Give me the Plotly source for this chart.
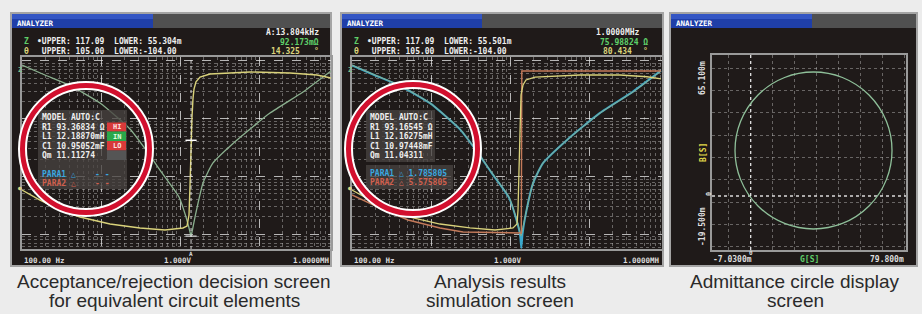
import math
import plotly.graph_objects as go

W, H = 922, 314
def X(p): return p / W
def Y(p): return 1 - p / H

# ---------------- data ----------------
# Panel 1 : acceptance / rejection screen (measured)
p1_freq_z = [100, 195, 393, 971, 2328, 3712, 5918, 9712, 11910, 13390, 13780,
             14190, 15490, 19550, 26160, 52660, 137800, 360600, 815500]
p1_z = [85.1, 57.1, 38.3, 18.7, 6.63, 2.87, 1.15, 0.44, 0.198, 0.109, 0.0922,
        0.109, 0.198, 0.770, 1.71, 4.28, 12.5, 29.0, 67.0]
p1_freq_theta = [100, 169, 303, 542, 1300, 3116, 6458, 9434, 10910, 12260, 13000,
                 13390, 13780, 14190, 14610, 15040, 15940, 17920, 23970, 76930,
                 246900, 542300, 815500]
p1_theta = [-39.8, -50.7, -61.5, -69.2, -76.8, -81.1, -83.3, -82.2, -81.1, -79.0,
            -67.0, -35.0, 10.0, 40.0, 60.0, 70.0, 78.0, 83.2, 86.5, 88.7, 87.6,
            85.4, 82.1]

# Panel 2 : analysis results simulation screen
p2_freq_z = [100, 195, 393, 971, 2328, 3712, 5918, 9712, 11910, 13390, 13780,
             14190, 15490, 19550, 26160, 52660, 137800, 360600, 815500]
p2_z = [85.1, 57.1, 38.3, 18.7, 6.63, 2.87, 1.15, 0.44, 0.198, 0.109, 0.093,
        0.109, 0.198, 0.770, 1.71, 4.28, 12.5, 29.0, 67.0]
p2_freq_zsim = [100, 195, 393, 971, 2328, 3712, 5918, 9712, 11910, 13390, 13900,
                14400, 15490, 19550, 26160, 52660, 137800, 360600, 815500]
p2_zsim = [84.0, 56.5, 38.0, 18.6, 6.55, 2.85, 1.13, 0.43, 0.19, 0.10, 0.058,
           0.10, 0.19, 0.76, 1.70, 4.30, 12.6, 29.5, 68.0]
p2_freq_theta = [100, 169, 303, 542, 1300, 3116, 6458, 9434, 10910, 12260, 12630,
                 13000, 13390, 13780, 14610, 15940, 20720, 76930, 246900, 542300,
                 815500]
p2_theta = [-39.8, -50.7, -61.5, -69.2, -76.8, -81.1, -83.3, -82.2, -81.1, -76.8,
            -61.5, -18.0, 36.4, 63.6, 74.5, 80.0, 83.2, 85.4, 85.4, 83.5, 81.1]
p2_freq_thsim = [100, 226, 512, 1300, 2541, 10910, 13900, 14110, 815500]
p2_thsim = [-45.2, -59.4, -72.4, -81.1, -85.5, -86.6, -86.6, 89.8, 89.8]

# Marker A (panel 1)
marker_freq = 13804
marker_z = 0.092173
marker_theta = 14.325

# Axis limits shown on the screens
z_upper = [117.09, 117.09]
z_lower = [0.055304, 0.055501]
th_upper, th_lower = 105.0, -104.0

# Panel 3 : admittance circle (G, B in mS)
g_range = [-7.03, 79.8]
b_range = [-19.5, 65.1]
circle_g = [3.27, 73.54]     # leftmost / rightmost G of the circle
circle_b = [-10.38, 57.73]   # lowest / highest B of the circle
cursor_g = 10.29
cursor_b = 3.93

# ---------------- styling ----------------
BG = "#ececec"
SCR = "#1f1a19"
GREEN = "#8bb08f"
YEL = "#d9d27a"
CYAN = "#3aa8cc"
BROWN = "#c47a5a"
RED = "#d2102e"
MONO = "DejaVu Sans Mono"
GRID_MIN = "rgba(205,205,205,0.42)"
GRID_MAJ = "rgba(235,235,235,0.75)"

fig = go.Figure()

# panel 1 traces
fig.add_trace(go.Scatter(x=p1_freq_theta, y=p1_theta, xaxis="x", yaxis="y2",
                         mode="lines", line=dict(color=YEL, width=1.4)))
fig.add_trace(go.Scatter(x=p1_freq_z, y=p1_z, xaxis="x", yaxis="y", mode="lines",
                         line=dict(color=GREEN, width=1.3, shape="spline", smoothing=0.5)))
fig.add_trace(go.Scatter(x=[marker_freq], y=[marker_theta], xaxis="x", yaxis="y2",
                         mode="markers", marker=dict(symbol="line-ew-open", size=8, color="white",
                         line=dict(color="white", width=1.5))))
fig.add_trace(go.Scatter(x=[marker_freq], y=[marker_z], xaxis="x", yaxis="y",
                         mode="markers", marker=dict(symbol="line-ew-open", size=8, color="#bbbbbb",
                         line=dict(color="#bbbbbb", width=1.5))))

# panel 2 traces
fig.add_trace(go.Scatter(x=p2_freq_thsim, y=p2_thsim, xaxis="x2", yaxis="y4",
                         mode="lines", line=dict(color=BROWN, width=1.4)))
fig.add_trace(go.Scatter(x=p2_freq_theta, y=p2_theta, xaxis="x2", yaxis="y4",
                         mode="lines", line=dict(color=YEL, width=1.3)))
fig.add_trace(go.Scatter(x=p2_freq_zsim, y=p2_zsim, xaxis="x2", yaxis="y3", mode="lines",
                         line=dict(color=CYAN, width=2.0, shape="spline", smoothing=0.5)))
fig.add_trace(go.Scatter(x=p2_freq_z, y=p2_z, xaxis="x2", yaxis="y3", mode="lines",
                         line=dict(color=GREEN, width=1.0, shape="spline", smoothing=0.5)))

# panel 3 (invisible trace so the axes exist)
fig.add_trace(go.Scatter(x=circle_g, y=circle_b, xaxis="x3", yaxis="y5",
                         mode="markers", marker=dict(opacity=0), hoverinfo="skip"))

def logx(domain, span):
    return dict(type="log", domain=domain, range=[2, 2 + span / 79], dtick=1,
                showgrid=True, gridcolor=GRID_MAJ, griddash="dash", gridwidth=1,
                minor=dict(showgrid=True, gridcolor=GRID_MIN, griddash="dot", dtick="D1"),
                showticklabels=False, ticks="", zeroline=False,
                showline=True, linecolor="#9a9a9a", linewidth=1.5, mirror=True)

def logy(domain, lo, hi):
    return dict(type="log", domain=domain, range=[math.log10(lo), math.log10(hi)], dtick=1,
                showgrid=True, gridcolor=GRID_MAJ, griddash="dash", gridwidth=1,
                minor=dict(showgrid=True, gridcolor=GRID_MIN, griddash="dot", dtick="D1"),
                showticklabels=False, ticks="", zeroline=False,
                showline=True, linecolor="#9a9a9a", linewidth=1.5, mirror=True)

ydom = [Y(249), Y(57)]
fig.update_layout(
    width=W, height=H, margin=dict(l=0, r=0, t=0, b=0),
    paper_bgcolor=BG, plot_bgcolor=SCR, showlegend=False,
    xaxis=dict(**logx([X(22), X(331)], 309), anchor="y"),
    yaxis=dict(**logy(ydom, z_lower[0], z_upper[0]), anchor="x"),
    yaxis2=dict(overlaying="y", range=[th_lower, th_upper], visible=False, anchor="x"),
    xaxis2=dict(**logx([X(352), X(662)], 310), anchor="y3"),
    yaxis3=dict(**logy(ydom, z_lower[1], z_upper[1]), anchor="x2"),
    yaxis4=dict(overlaying="y3", range=[th_lower, th_upper], visible=False, anchor="x2"),
    xaxis3=dict(domain=[X(712), X(906)], range=g_range, anchor="y5",
                tick0=cursor_g, dtick=9.85, showgrid=True, gridcolor=GRID_MIN,
                griddash="dot", showticklabels=False, ticks="", zeroline=False,
                showline=True, linecolor="#9a9a9a", linewidth=1.5, mirror=True),
    yaxis5=dict(domain=[Y(250), Y(55)], range=b_range, anchor="x3",
                tick0=59.33, dtick=9.67, showgrid=True, gridcolor=GRID_MIN,
                griddash="dot", showticklabels=False, ticks="", zeroline=False,
                showline=True, linecolor="#9a9a9a", linewidth=1.5, mirror=True),
)

shapes = []
def rect(x0, y0, x1, y1, fill, line=None, lw=0, layer="above"):
    shapes.append(dict(type="rect", xref="paper", yref="paper", x0=X(x0), x1=X(x1),
                       y0=Y(y1), y1=Y(y0), fillcolor=fill, layer=layer,
                       line=dict(color=line or fill, width=lw)))

panels = [(11, 331, 153), (341, 663, 482), (670, 917, 812)]
for (l, r, bl) in panels:
    rect(l, 13, r, 266, SCR, "#a4a4a4", 2, layer="below")
    rect(l + 1, 14, r - 1, 28, "#505050", layer="below")
    rect(l + 1, 14, bl, 28, "#1f3fa8", layer="below")
    rect(l + 1, 14, bl, 19, "#3456c4", layer="below")

# marker A line (panel 1)
shapes.append(dict(type="line", xref="x", yref="y domain", x0=marker_freq, x1=marker_freq,
                   y0=0, y1=1, line=dict(color="rgba(240,240,240,0.85)", width=1, dash="dot")))
# panel 3 cursors and circle
shapes.append(dict(type="line", xref="x3", yref="y5 domain", x0=cursor_g, x1=cursor_g,
                   y0=0, y1=1, line=dict(color="rgba(240,240,240,0.9)", width=1.3, dash="dot")))
shapes.append(dict(type="line", xref="x3 domain", yref="y5", x0=0, x1=1, y0=cursor_b,
                   y1=cursor_b, line=dict(color="rgba(240,240,240,0.9)", width=1.3, dash="dot")))
shapes.append(dict(type="circle", xref="x3", yref="y5", x0=circle_g[0], x1=circle_g[1],
                   y0=circle_b[0], y1=circle_b[1], line=dict(color="#8fc09a", width=1.3)))

# info boxes
rect(38, 110, 127, 189, "rgba(72,66,64,0.78)")
rect(366, 110, 435, 162, "rgba(72,66,64,0.78)")
rect(366, 165, 453, 189, "rgba(72,66,64,0.78)")
# judgement cells
rect(107, 122.5, 126, 131.5, "#d83a3a")
rect(107, 131.5, 126, 141, "#2aa84a")
rect(107, 141, 126, 150.5, "#d83a3a")
rect(107, 150.5, 126, 160, "#555555")

# red circles with white outline
for (cx, cy, rr) in [(86, 149, 63.5), (413, 149, 64.5)]:
    for col, w in [("white", 9), (RED, 5)]:
        shapes.append(dict(type="circle", xref="paper", yref="paper",
                           x0=X(cx - rr), x1=X(cx + rr), y0=Y(cy + rr), y1=Y(cy - rr),
                           line=dict(color=col, width=w)))
fig.update_layout(shapes=shapes)

anns = []
def t(x, y, text, color="#eeeeee", size=8, anchor="left", bold=True, family=MONO, angle=0):
    anns.append(dict(x=X(x), y=Y(y), xref="paper", yref="paper", text=text, showarrow=False,
                     xanchor=anchor, yanchor="middle", textangle=angle,
                     font=dict(family=family, size=size, color=color,
                               weight="bold" if bold else "normal")))

for (l, r, bl) in panels:
    t(l + 4, 23.5, "ANALYZER", "white", 7.5)

for (o, low) in [(0, "55.304m"), (330, "55.501m")]:
    t(o + 22, 42, "Z", "#5fd06a")
    t(o + 35, 42, "•UPPER: 117.09  LOWER: " + low)
    t(o + 22, 51.5, "θ", YEL)
    t(o + 35, 51.5, " UPPER: 105.00  LOWER:-104.00")
    t(o + 16, 70, "Z", "#7fc08a", 7)
    t(o + 16, 187, "●", YEL, 6)
    t(o + 22, 260, "100.00 Hz", "#dddddd", 7.5)
    t(o + 178, 260, "1.000V", "#dddddd", 7.5, "center")
    t(o + 332, 260, "1.0000MH", "#dddddd", 7.5, "right")
t(321, 33, "A:13.804kHz", "#eeeeee", 8, "right")
t(321, 43, "92.173mΩ", "#5fd06a", 8, "right")
t(302, 52, "14.325", YEL, 8, "right")
t(321, 52, "°", YEL, 8, "right")
t(191, 253, "A", "#dddddd", 6, "center")
t(642, 33, "1.0000MHz", "#eeeeee", 8, "right")
t(650, 43, "75.98824 Ω", "#5fd06a", 8, "right")
t(634, 52, "80.434", YEL, 8, "right")
t(650, 52, "°", YEL, 8, "right")

rows1 = ["MODEL AUTO:C", "R1 93.36834 Ω", "L1 12.18870mH", "C1 10.95052mF", "Qm 11.11274"]
rows2 = ["MODEL AUTO:C", "R1 93.16545 Ω", "L1 12.16275mH", "C1 10.97448mF", "Qm 11.04311"]
for i, yy in enumerate([117.5, 127, 136.5, 146.5, 155.5]):
    t(40, yy, rows1[i])
    t(368, yy, rows2[i])
for lab, yy in [("HI", 127), ("IN", 136.5), ("LO", 146)]:
    t(116.5, yy, lab, "#ffe0e0" if lab != "IN" else "#e0ffe0", 7, "center")
t(40, 174.5, "PARA1 △", "#3aa8e0")
t(93, 174.5, "- -", "#3aa8e0")
t(40, 183.5, "PARA2 △", "#d0604e")
t(93, 183.5, "- -", "#d0604e")
t(368, 173.5, "PARA1 △ 1.785805", "#3aa8e0")
t(368, 182.5, "PARA2 △ 5.575805", "#d0604e")

# panel 3 labels
t(703, 78, "65.100m", "#dddddd", 8, "center", angle=-90)
t(703, 153, "B[S]", "#e0d84a", 8, "center", angle=-90)
t(709, 194, "0", "#dddddd", 7, "center", angle=-90)
t(703, 227, "-19.500m", "#dddddd", 8, "center", angle=-90)
t(732, 259.5, "-7.0300m", "#dddddd", 8, "center")
t(751, 252, "0", "#dddddd", 6, "center")
t(809, 259.5, "G[S]", "#5fd06a", 8, "center")
t(906, 259.5, "79.800m", "#dddddd", 8, "right")

# captions
CAP = "Liberation Sans"
for cx, l1, l2 in [(174, "Acceptance/rejection decision screen", "for equivalent circuit elements"),
                   (500, "Analysis results", "simulation screen"),
                   (795, "Admittance circle display", "screen")]:
    t(cx, 281, l1, "#2a2a2a", 19, "center", bold=False, family=CAP)
    t(cx, 300.5, l2, "#2a2a2a", 19, "center", bold=False, family=CAP)

fig.update_layout(annotations=anns)
fig.write_html("out.html", config={"displayModeBar": False},
               post_script="document.body.style.margin='0px';document.body.style.overflow='hidden';")
